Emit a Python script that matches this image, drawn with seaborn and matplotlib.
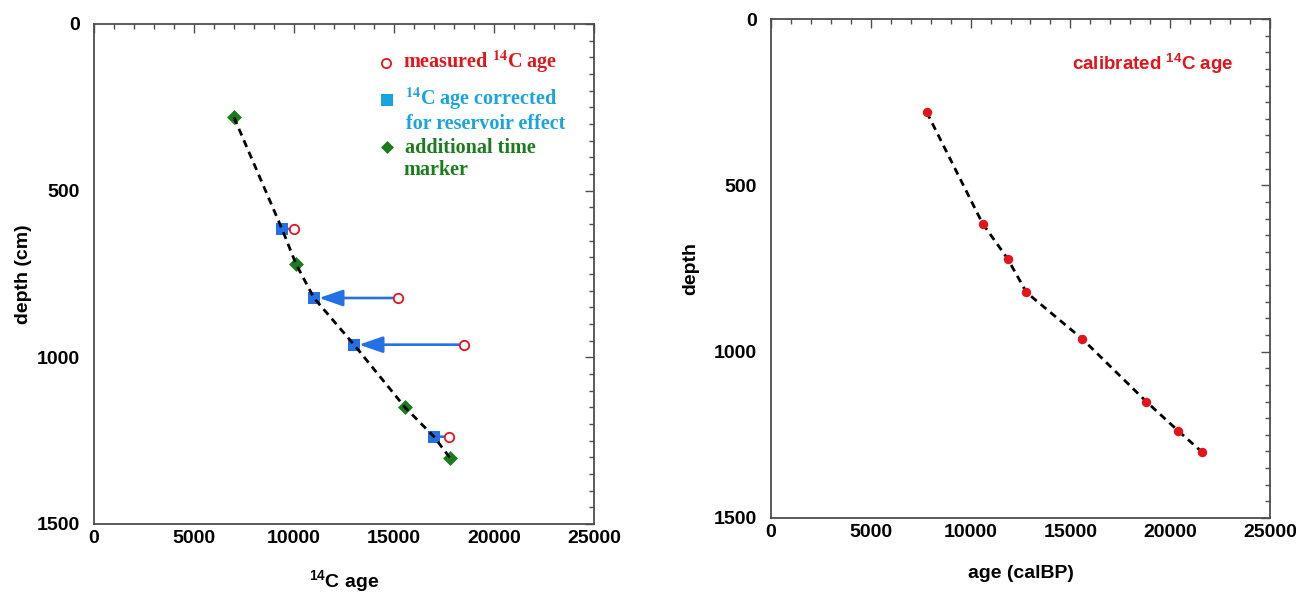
import matplotlib
matplotlib.use("Agg")
import matplotlib.pyplot as plt
from matplotlib.ticker import MultipleLocator
import numpy as np
import pandas as pd
import seaborn as sns

# Radiocarbon samples: depth (cm), measured 14C age and reservoir-corrected 14C age
sample_depth = [615, 822, 962, 1238]
measured_age = [10000, 15200, 18500, 17750]
corrected_age = [9400, 11000, 13000, 17000]

# Additional time markers
marker_depth = [280, 720, 1150, 1302]
marker_age = [7000, 10100, 15550, 17800]

# Calibrated ages used for the age-depth model
cal_depth = [280, 615, 720, 822, 962, 1150, 1238, 1302]
cal_age = [7800, 10600, 11850, 12800, 15600, 18800, 20400, 21600]

RED = "#e3141b"
CYAN = "#1aa3df"
BLUE = "#2471e6"
GREEN = "#1b7c1b"
FRAME = "#4d4d4d"

sns.set_style("white")
plt.rcParams["font.family"] = ["Liberation Sans", "DejaVu Sans"]
plt.rcParams["font.weight"] = "bold"
plt.rcParams["text.color"] = "black"
plt.rcParams["axes.labelcolor"] = "black"
plt.rcParams["xtick.labelcolor"] = "black"
plt.rcParams["ytick.labelcolor"] = "black"
plt.rcParams["mathtext.fontset"] = "custom"
plt.rcParams["mathtext.rm"] = "Liberation Sans:bold"
plt.rcParams["mathtext.bf"] = "Liberation Sans:bold"
plt.rcParams["mathtext.it"] = "Liberation Sans:bold"

DASH = (0, (2.6, 1.9))

fig = plt.figure(figsize=(12.96, 5.92), dpi=100)
ax1 = fig.add_axes([94 / 1296, 1 - 524 / 592, 500 / 1296, 500 / 592])
ax2 = fig.add_axes([771 / 1296, 1 - 518 / 592, 499 / 1296, 499 / 592])

# ---- left panel: 14C ages ----
model = pd.DataFrame({
    "age": corrected_age + marker_age,
    "depth": sample_depth + marker_depth,
}).sort_values("depth")
samples = pd.DataFrame({"depth": sample_depth, "measured": measured_age,
                        "corrected": corrected_age})
markers = pd.DataFrame({"depth": marker_depth, "age": marker_age})

# reservoir correction arrows (measured -> corrected)
for _, row in samples.iterrows():
    shift = row["measured"] - row["corrected"]
    style = "-|>,head_length=1.45,head_width=0.5" if shift > 2000 else "-"
    ax1.annotate("", xy=(row["corrected"], row["depth"]),
                 xytext=(row["measured"], row["depth"]),
                 arrowprops=dict(arrowstyle=style, color=BLUE, lw=1.9,
                                 shrinkA=3.4, shrinkB=3.6, mutation_scale=10),
                 zorder=2)

sns.scatterplot(data=samples, x="corrected", y="depth", marker="s", s=66,
                color=BLUE, edgecolor=BLUE, linewidth=0, ax=ax1, zorder=3)
sns.scatterplot(data=samples, x="measured", y="depth", marker="o", s=46,
                facecolor="white", edgecolor=RED, linewidth=1.3, ax=ax1, zorder=3)
sns.scatterplot(data=markers, x="age", y="depth", marker="D", s=58,
                color=GREEN, edgecolor=GREEN, linewidth=0, ax=ax1, zorder=3)
sns.lineplot(data=model, x="age", y="depth", sort=False, estimator=None,
             color="black", lw=2.0, linestyle=DASH, ax=ax1, zorder=4)

# key
key_font = dict(transform=ax1.transAxes, fontfamily=["Liberation Serif", "DejaVu Serif"],
                fontweight="bold", fontsize=14.5, va="baseline", ha="left",
                math_fontfamily="stix")
ax1.scatter([0.584], [0.9226], transform=ax1.transAxes, marker="o", s=44,
            facecolor="white", edgecolor=RED, linewidth=1.3, clip_on=False)
ax1.text(0.618, 0.913, r"measured $^{\mathbf{14}}$C age", color=RED, **key_font)
ax1.scatter([0.586], [0.848], transform=ax1.transAxes, marker="s", s=64,
            color=CYAN, linewidth=0, clip_on=False)
ax1.text(0.622, 0.838, r"$^{\mathbf{14}}$C age corrected", color=CYAN, **key_font)
ax1.text(0.624, 0.790, "for reservoir effect", color=CYAN, **key_font)
ax1.scatter([0.586], [0.754], transform=ax1.transAxes, marker="D", s=44,
            color=GREEN, linewidth=0, clip_on=False)
ax1.text(0.622, 0.742, "additional time", color=GREEN, **key_font)
ax1.text(0.618, 0.698, "marker", color=GREEN, **key_font)

ax1.set_xlabel(r"$^{14}$C age", fontsize=14, fontweight="bold")
ax1.set_ylabel("depth (cm)", fontsize=14, fontweight="bold")
ax1.xaxis.set_label_coords(0.5, -0.088)
ax1.yaxis.set_label_coords(-0.124, 0.5)

# ---- right panel: calibrated ages ----
cal = pd.DataFrame({"age": cal_age, "depth": cal_depth})
sns.lineplot(data=cal, x="age", y="depth", sort=False, estimator=None,
             color="black", lw=2.0, linestyle=DASH, ax=ax2, zorder=2)
sns.scatterplot(data=cal, x="age", y="depth", marker="o", s=46, color=RED,
                edgecolor=RED, linewidth=0, ax=ax2, zorder=3)
ax2.text(0.603, 0.898, r"calibrated $^{14}$C age", transform=ax2.transAxes,
         color=RED, fontsize=13.5, fontweight="bold", va="baseline", ha="left")
ax2.set_xlabel("age (calBP)", fontsize=14, fontweight="bold")
ax2.set_ylabel("depth", fontsize=14, fontweight="bold")
ax2.xaxis.set_label_coords(0.5, -0.094)
ax2.yaxis.set_label_coords(-0.144, 0.5)

for ax in (ax1, ax2):
    ax.set_xlim(0, 25000)
    ax.set_ylim(1500, 0)
    ax.xaxis.set_major_locator(MultipleLocator(5000))
    ax.xaxis.set_minor_locator(MultipleLocator(1000))
    ax.yaxis.set_major_locator(MultipleLocator(500))
    ax.yaxis.set_minor_locator(MultipleLocator(50))
    ax.tick_params(which="both", direction="in", top=True, right=True,
                   color=FRAME, width=1.0, labelsize=14, labelcolor="black")
    ax.tick_params(which="major", length=6.5)
    ax.tick_params(which="minor", length=3.5)
    ax.tick_params(axis="y", pad=10)
    ax.tick_params(axis="x", pad=4.5)
    for lab in ax.get_xticklabels() + ax.get_yticklabels():
        lab.set_fontweight("bold")
    for sp in ax.spines.values():
        sp.set_color(FRAME)
        sp.set_linewidth(1.3)
    leg = ax.get_legend()
    if leg is not None:
        leg.remove()

fig.savefig("out.png", dpi=100)
